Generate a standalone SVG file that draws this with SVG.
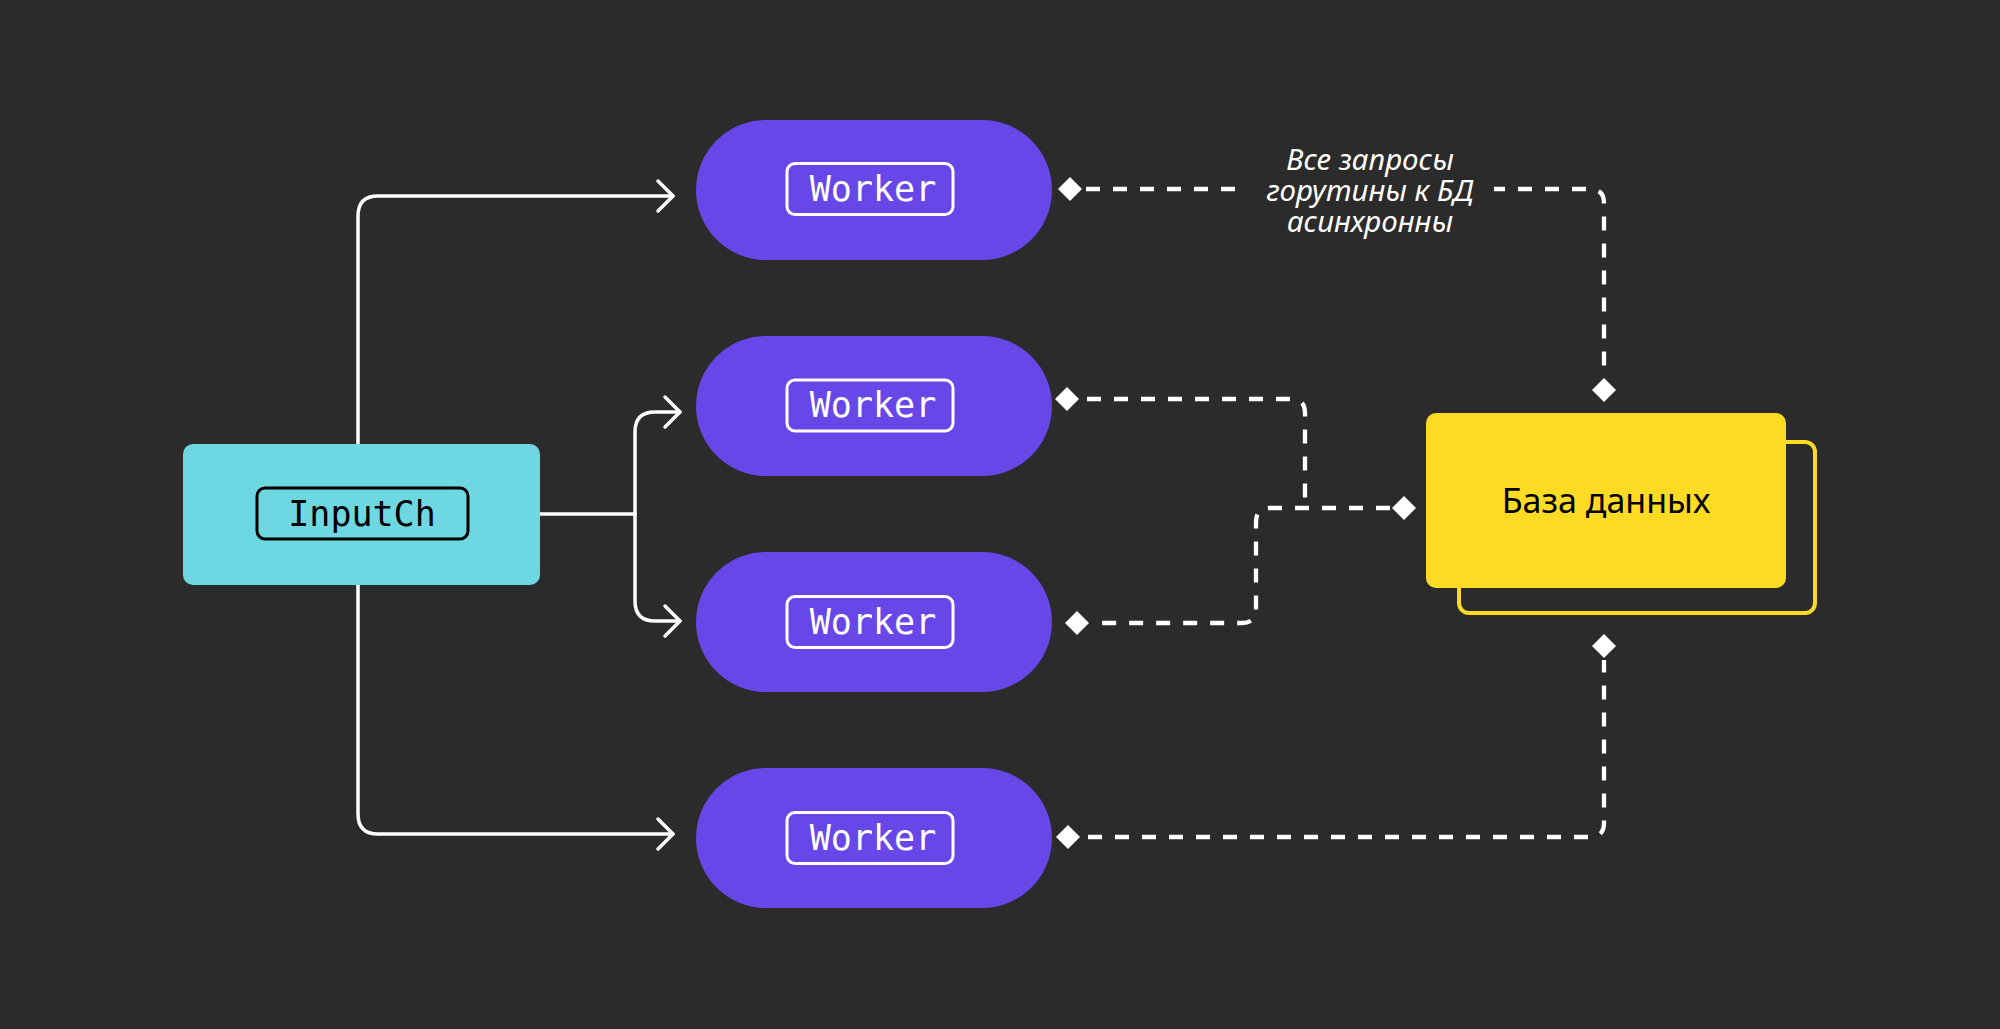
<svg xmlns="http://www.w3.org/2000/svg" width="2000" height="1029" viewBox="0 0 2000 1029">
  <style>
    .pill { fill: #6847e8; }
    .wbox { fill: none; stroke: #ffffff; stroke-width: 3; }
    .mono { font-family: "DejaVu Sans Mono", "Liberation Mono", monospace; font-size: 35px; }
    .wtext { fill: #ffffff; text-anchor: middle; }
    .solid { fill: none; stroke: #ffffff; stroke-width: 3.5; stroke-linecap: round; stroke-linejoin: round; }
    .dash { fill: none; stroke: #ffffff; stroke-width: 4.3; stroke-dasharray: 14 13; }
    .dia { fill: #ffffff; }
    .note { font-family: "Noto Sans", "Open Sans", sans-serif; font-style: italic; font-size: 29.5px; fill: #ffffff; text-anchor: middle; }
  </style>
  <defs>
    <marker id="arrow" markerUnits="userSpaceOnUse" markerWidth="24" markerHeight="36" refX="17" refY="17" orient="auto" overflow="visible">
      <path d="M2,2 L17,17 L2,32" fill="none" stroke="#ffffff" stroke-width="3.5" stroke-linecap="round" stroke-linejoin="round"/>
    </marker>
    <path id="diamond" d="M0,-12 L12,0 L0,12 L-12,0 Z"/>
  </defs>

  <rect x="0" y="0" width="2000" height="1029" fill="#2b2b2b"/>

  <g id="connectors">
    <path class="solid" d="M358,444 V216 Q358,196 378,196 H673" marker-end="url(#arrow)"/>
    <path class="solid" d="M540,514 H635"/>
    <path class="solid" d="M635,514 V432 Q635,412 655,412 H680" marker-end="url(#arrow)"/>
    <path class="solid" d="M635,514 V601 Q635,621 655,621 H680" marker-end="url(#arrow)"/>
    <path class="solid" d="M358,585 V814 Q358,834 378,834 H673" marker-end="url(#arrow)"/>

    <path class="dash" d="M1086,189 H1590 Q1604,189 1604,203 V377"/>
    <path class="dash" d="M1087,399 H1291 Q1305,399 1305,413 V508"/>
    <path class="dash" d="M1390,508 H1270 Q1256,508 1256,522 V609 Q1256,623 1242,623 H1091"/>
    <path class="dash" d="M1088,837 H1590 Q1604,837 1604,823 V660"/>

    <use href="#diamond" class="dia" x="1070" y="189"/>
    <use href="#diamond" class="dia" x="1604" y="390"/>
    <use href="#diamond" class="dia" x="1067" y="399"/>
    <use href="#diamond" class="dia" x="1404" y="508"/>
    <use href="#diamond" class="dia" x="1077" y="623"/>
    <use href="#diamond" class="dia" x="1068" y="837"/>
    <use href="#diamond" class="dia" x="1604" y="646"/>

    <g id="note">
      <rect x="1246" y="140" width="248" height="100" fill="#2b2b2b"/>
      <text class="note"><tspan x="1370" y="170">Все запросы</tspan><tspan x="1370" y="201">горутины к БД</tspan><tspan x="1370" y="232">асинхронны</tspan></text>
    </g>
  </g>

  <g id="inputch">
    <rect x="183" y="444" width="357" height="141" rx="10" fill="#6dd8e1"/>
    <rect x="257" y="488" width="211" height="51" rx="8" fill="none" stroke="#000000" stroke-width="3"/>
    <text class="mono" x="362" y="525.5" fill="#000000" text-anchor="middle">InputCh</text>
  </g>

  <g id="worker1">
    <rect class="pill" x="696" y="120" width="356" height="140" rx="70"/>
    <rect class="wbox" x="787" y="163.5" width="166" height="51" rx="8"/>
    <text class="mono wtext" x="873" y="200.5">Worker</text>
  </g>
  <g id="worker2">
    <rect class="pill" x="696" y="336" width="356" height="140" rx="70"/>
    <rect class="wbox" x="787" y="380" width="166" height="51" rx="8"/>
    <text class="mono wtext" x="873" y="417">Worker</text>
  </g>
  <g id="worker3">
    <rect class="pill" x="696" y="552" width="356" height="140" rx="70"/>
    <rect class="wbox" x="787" y="596.5" width="166" height="51" rx="8"/>
    <text class="mono wtext" x="873" y="633.5">Worker</text>
  </g>
  <g id="worker4">
    <rect class="pill" x="696" y="768" width="356" height="140" rx="70"/>
    <rect class="wbox" x="787" y="812.5" width="166" height="51" rx="8"/>
    <text class="mono wtext" x="873" y="849.5">Worker</text>
  </g>

  <g id="database">
    <rect x="1459" y="442" width="356" height="171" rx="10" fill="none" stroke="#fdda24" stroke-width="4"/>
    <rect x="1426" y="413" width="360" height="175" rx="10" fill="#fdda24"/>
    <text x="1606" y="513" font-family="Noto Sans, Open Sans, sans-serif" font-size="34" fill="#000000" text-anchor="middle">База данных</text>
  </g>
</svg>
